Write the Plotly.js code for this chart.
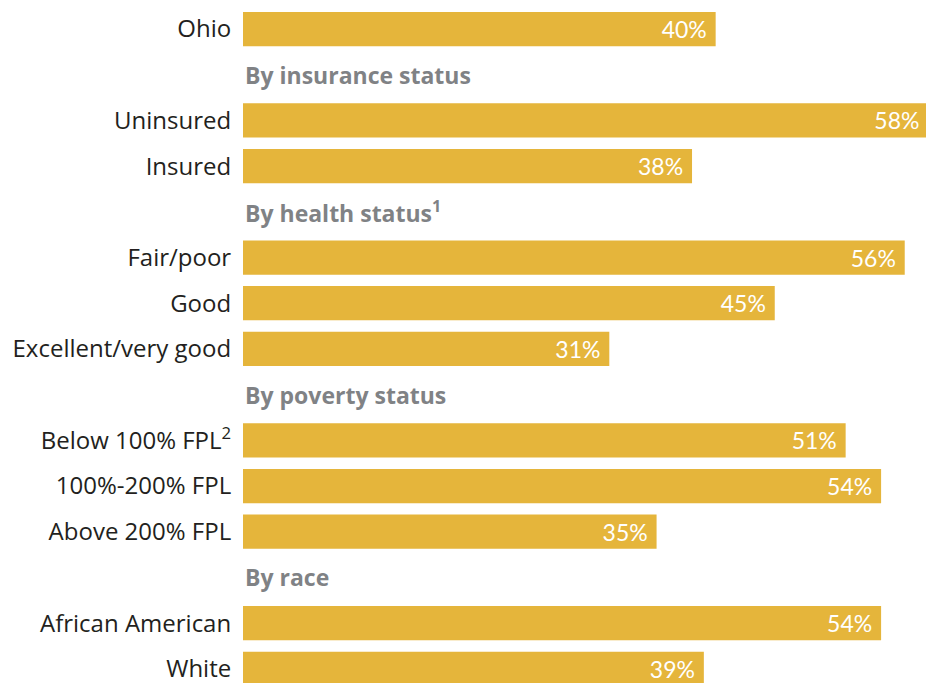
<!DOCTYPE html>
<html>
<head>
<meta charset="utf-8">
<script src="https://cdn.plot.ly/plotly-3.0.1.min.js"></script>
<style>html,body{margin:0;padding:0;background:#fff;}#chart{width:926px;height:683px;}</style>
</head>
<body>
<div id="chart"></div>
<script>
// Data
const categories = ["Ohio", "Uninsured", "Insured", "Fair/poor", "Good", "Excellent/very good",
  "Below 100% FPL<sup>2</sup>", "100%-200% FPL", "Above 200% FPL", "African American", "White"];
const values = [40, 58, 38, 56, 45, 31, 51, 54, 35, 54, 39];
const groupHeaders = ["By insurance status", "By health status<sup>1</sup>", "By poverty status", "By race"];
// Display order of rows (headers occupy their own rows)
const rowOrder = ["Ohio", groupHeaders[0], "Uninsured", "Insured", groupHeaders[1], "Fair/poor", "Good",
  "Excellent/very good", groupHeaders[2], "Below 100% FPL<sup>2</sup>", "100%-200% FPL", "Above 200% FPL",
  groupHeaders[3], "African American", "White"];

const FONT = "'Open Sans', 'Noto Sans', sans-serif";

const trace = {
  type: 'bar',
  orientation: 'h',
  x: values,
  y: categories,
  marker: {color: '#E5B53B'},
  texttemplate: '%{x}%\u00a0',
  textposition: 'inside',
  insidetextanchor: 'end',
  textfont: {family: "Lato, 'Open Sans', sans-serif", size: 23, color: '#ffffff'},
  cliponaxis: true,
  hoverinfo: 'none'
};

const annotations = groupHeaders.map(h => ({
  text: '<b>' + h + '</b>',
  x: 0, xref: 'x', xanchor: 'left',
  y: h, yref: 'y', yanchor: 'middle',
  showarrow: false,
  xshift: 0,
  font: {family: FONT, size: 23, color: '#808285'}
}));

const layout = {
  width: 926, height: 683,
  margin: {l: 243, r: 0, t: 0, b: 0, pad: 0},
  paper_bgcolor: '#fff', plot_bgcolor: '#fff',
  showlegend: false,
  bargap: 0.25,
  xaxis: {range: [0, 57.8], visible: false, fixedrange: true},
  yaxis: {
    type: 'category',
    categoryorder: 'array', categoryarray: rowOrder,
    range: [14.31, -0.635],
    tickvals: categories,
    ticks: 'outside', ticklen: 6, tickcolor: 'rgba(0,0,0,0)',
    showgrid: false, zeroline: false, showline: false,
    tickfont: {family: FONT, size: 24, color: '#231F20'}
  },
  annotations: annotations
};

Plotly.newPlot('chart', [trace], layout, {staticPlot: true, displayModeBar: false});
</script>
</body>
</html>
